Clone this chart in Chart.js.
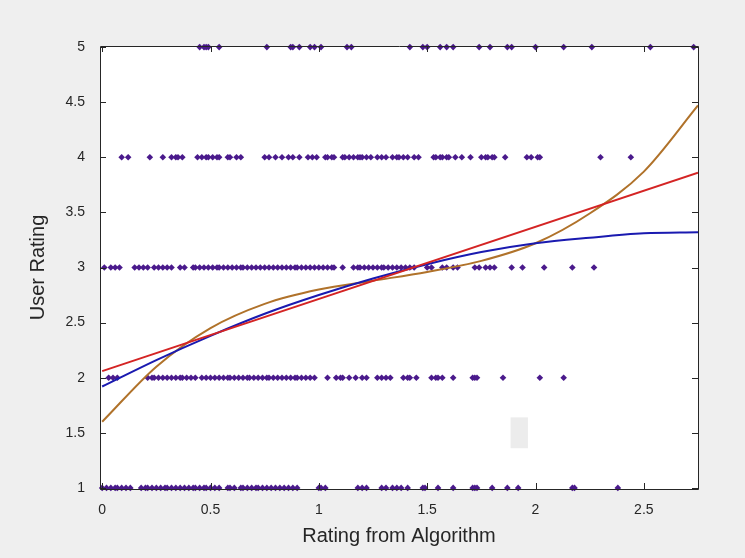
<!DOCTYPE html>
<html>
<head>
<meta charset="utf-8">
<script src="https://cdn.jsdelivr.net/npm/chart.js@4/dist/chart.umd.min.js"></script>
<style>
  html, body { margin: 0; padding: 0; background: #efefef; }
  #wrap { width: 745px; height: 558px; }
</style>
</head>
<body>
<div id="wrap"><canvas id="c" width="745" height="558"></canvas></div>
<script>
// ---- data ----
const xTicks = [0, 0.5, 1, 1.5, 2, 2.5];
const yTicks = [1, 1.5, 2, 2.5, 3, 3.5, 4, 4.5, 5];

// algorithm ratings of the samples, grouped by user rating
const rating5X = [0.45, 0.47, 0.48, 0.49, 0.54, 0.76, 0.87, 0.88, 0.91, 0.96, 0.98, 1.01, 1.13, 1.15, 1.42, 1.48, 1.50, 1.56, 1.59, 1.62, 1.74, 1.79, 1.87, 1.89, 2.00, 2.13, 2.26, 2.53, 2.73];
const rating4X = [0.09, 0.12, 0.22, 0.28, 0.32, 0.34, 0.35, 0.37, 0.44, 0.46, 0.48, 0.49, 0.51, 0.53, 0.54, 0.58, 0.59, 0.62, 0.64, 0.75, 0.77, 0.80, 0.83, 0.86, 0.88, 0.91, 0.95, 0.97, 0.99, 1.03, 1.04, 1.06, 1.07, 1.11, 1.12, 1.14, 1.16, 1.18, 1.19, 1.20, 1.22, 1.24, 1.27, 1.29, 1.31, 1.34, 1.36, 1.37, 1.39, 1.41, 1.44, 1.46, 1.53, 1.54, 1.56, 1.57, 1.59, 1.60, 1.63, 1.66, 1.70, 1.75, 1.77, 1.78, 1.80, 1.81, 1.86, 1.96, 1.98, 2.01, 2.02, 2.30, 2.44];
const rating3X = [0.01, 0.04, 0.06, 0.08, 0.15, 0.17, 0.19, 0.21, 0.24, 0.26, 0.28, 0.30, 0.32, 0.36, 0.38, 0.42, 0.43, 0.45, 0.47, 0.49, 0.51, 0.53, 0.54, 0.56, 0.58, 0.60, 0.62, 0.64, 0.65, 0.67, 0.69, 0.71, 0.73, 0.75, 0.77, 0.79, 0.81, 0.83, 0.85, 0.87, 0.89, 0.90, 0.92, 0.94, 0.96, 0.98, 1.00, 1.02, 1.04, 1.06, 1.07, 1.11, 1.16, 1.18, 1.19, 1.21, 1.23, 1.25, 1.27, 1.29, 1.30, 1.32, 1.34, 1.36, 1.38, 1.40, 1.42, 1.44, 1.50, 1.52, 1.57, 1.59, 1.62, 1.64, 1.72, 1.74, 1.77, 1.79, 1.81, 1.89, 1.94, 2.04, 2.17, 2.27];
const rating2X = [0.03, 0.05, 0.07, 0.21, 0.23, 0.24, 0.26, 0.28, 0.30, 0.32, 0.34, 0.36, 0.37, 0.39, 0.41, 0.43, 0.46, 0.48, 0.50, 0.52, 0.54, 0.56, 0.58, 0.59, 0.61, 0.63, 0.65, 0.67, 0.68, 0.70, 0.72, 0.74, 0.76, 0.77, 0.79, 0.81, 0.83, 0.85, 0.87, 0.89, 0.90, 0.92, 0.94, 0.96, 0.98, 1.04, 1.08, 1.10, 1.11, 1.14, 1.17, 1.20, 1.22, 1.27, 1.29, 1.31, 1.33, 1.39, 1.41, 1.42, 1.45, 1.52, 1.54, 1.55, 1.57, 1.62, 1.71, 1.72, 1.73, 1.85, 2.02, 2.13];
const rating1X = [0.00, 0.02, 0.04, 0.06, 0.07, 0.09, 0.11, 0.13, 0.18, 0.20, 0.21, 0.23, 0.25, 0.27, 0.29, 0.30, 0.32, 0.34, 0.36, 0.38, 0.40, 0.42, 0.43, 0.45, 0.47, 0.48, 0.50, 0.52, 0.54, 0.58, 0.59, 0.61, 0.64, 0.65, 0.67, 0.69, 0.71, 0.72, 0.74, 0.76, 0.78, 0.80, 0.82, 0.84, 0.86, 0.88, 0.90, 1.00, 1.01, 1.03, 1.18, 1.20, 1.22, 1.29, 1.31, 1.34, 1.36, 1.38, 1.41, 1.48, 1.49, 1.55, 1.62, 1.71, 1.72, 1.73, 1.80, 1.87, 1.92, 2.17, 2.18, 2.38];

// fitted curves
const fitX      = [0, 0.25, 0.5, 0.75, 1.0, 1.25, 1.5, 1.75, 2.0, 2.25, 2.5, 2.75];
const quadFitY  = [1.92, 2.16, 2.38, 2.58, 2.75, 2.90, 3.03, 3.14, 3.22, 3.27, 3.31, 3.32];
const cubicFitY = [1.60, 2.10, 2.45, 2.67, 2.80, 2.88, 2.96, 3.06, 3.22, 3.49, 3.87, 4.47];
const linFitX   = [0, 2.75];
const linFitY   = [2.06, 3.86];

const xLabel = 'Rating from Algorithm';
const yLabel = 'User Rating';

// ---- build ----
const pts = (xs, y) => xs.map(x => ({x: x, y: y}));
const line = (xs, ys) => xs.map((x, i) => ({x: x, y: ys[i]}));

const markerColor = '#4a1a8c';
const scatterSet = (xs, y) => ({
  type: 'scatter',
  data: pts(xs, y),
  pointStyle: 'rectRot',
  pointRadius: 3.3,
  pointBorderWidth: 0,
  backgroundColor: markerColor,
  borderColor: markerColor,
  clip: false,
  order: 2
});
const lineSet = (data, color) => ({
  type: 'line',
  data: data,
  borderColor: color,
  borderWidth: 2,
  pointRadius: 0,
  fill: false,
  cubicInterpolationMode: 'monotone',
  order: 1
});

const frameTicks = {
  id: 'frameTicks',
  afterDraw(chart) {
    const {ctx, chartArea: a, scales: {x, y}} = chart;
    ctx.save();
    ctx.strokeStyle = '#262626';
    ctx.lineWidth = 1;
    ctx.beginPath();
    ctx.rect(Math.round(a.left) + 0.5, Math.round(a.top) + 0.5,
             Math.round(a.right - a.left), Math.round(a.bottom - a.top));
    ctx.stroke();
    const L = 6;
    ctx.beginPath();
    xTicks.forEach(v => {
      const px = Math.round(x.getPixelForValue(v)) + 0.5;
      ctx.moveTo(px, a.bottom); ctx.lineTo(px, a.bottom - L);
      ctx.moveTo(px, a.top); ctx.lineTo(px, a.top + L);
    });
    yTicks.forEach(v => {
      const py = Math.round(y.getPixelForValue(v)) + 0.5;
      ctx.moveTo(a.left, py); ctx.lineTo(a.left + L, py);
      ctx.moveTo(a.right, py); ctx.lineTo(a.right - L, py);
    });
    ctx.stroke();
    ctx.restore();
  }
};

const plotBg = {
  id: 'plotBg',
  beforeDraw(chart) {
    const {ctx, chartArea: a, scales: {x, y}} = chart;
    ctx.save();
    ctx.fillStyle = '#efefef';
    ctx.fillRect(0, 0, chart.width, chart.height);
    ctx.fillStyle = '#ffffff';
    ctx.fillRect(a.left, a.top, a.right - a.left, a.bottom - a.top);
    // faint grey patch visible inside the reference plot area
    const x0 = x.getPixelForValue(1.885), x1 = x.getPixelForValue(1.965);
    const y0 = y.getPixelForValue(1.64), y1 = y.getPixelForValue(1.36);
    ctx.fillStyle = '#ececec';
    ctx.fillRect(x0, y0, x1 - x0, y1 - y0);
    ctx.restore();
  }
};

const tickFont = {family: "'Liberation Sans Narrow', 'Liberation Sans', Arial, sans-serif", size: 14};
const titleFont = {family: "'Liberation Sans', Arial, sans-serif", size: 20};

new Chart(document.getElementById('c'), {
  data: {
    datasets: [
      lineSet(line(linFitX, linFitY), '#d42424'),
      lineSet(line(fitX, quadFitY), '#1a1ab0'),
      lineSet(line(fitX, cubicFitY), '#b0722a'),
      scatterSet(rating5X, 5),
      scatterSet(rating4X, 4),
      scatterSet(rating3X, 3),
      scatterSet(rating2X, 2),
      scatterSet(rating1X, 1)
    ]
  },
  options: {
    responsive: false,
    animation: false,
    layout: {padding: {top: 46, right: 47, left: 0, bottom: 0}},
    plugins: {legend: {display: false}, tooltip: {enabled: false}},
    scales: {
      x: {
        type: 'linear',
        min: -0.01, max: 2.75,
        grid: {display: false},
        border: {display: false},
        afterBuildTicks: s => { s.ticks = xTicks.map(v => ({value: v})); },
        afterFit: s => { s.height = 69; },
        ticks: {color: '#262626', font: tickFont, padding: 5, maxRotation: 0,
                callback: v => String(v)},
        title: {display: true, text: xLabel, color: '#262626', font: titleFont,
                padding: {top: 0, bottom: 10}}
      },
      y: {
        type: 'linear',
        min: 0.99, max: 5.01,
        grid: {display: false},
        border: {display: false},
        afterBuildTicks: s => { s.ticks = yTicks.map(v => ({value: v})); },
        afterFit: s => { s.width = 100; },
        ticks: {color: '#262626', font: tickFont, padding: 7,
                callback: v => String(v)},
        title: {display: true, text: yLabel, color: '#262626', font: titleFont,
                padding: {top: 26, bottom: 0}}
      }
    }
  },
  plugins: [plotBg, frameTicks]
});
</script>
</body>
</html>
